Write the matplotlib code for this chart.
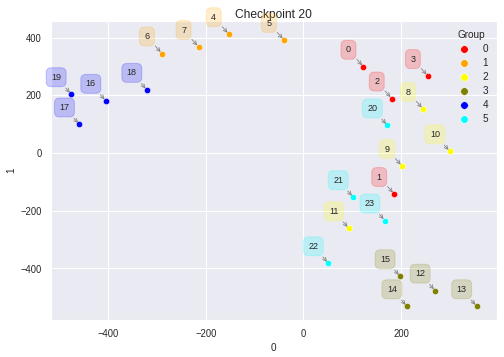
import numpy as np
import pandas as pd
import matplotlib
matplotlib.use('Agg')
import matplotlib.pyplot as plt
import seaborn as sns

sns.set_theme(style='darkgrid')
plt.rcParams['font.family'] = ['Liberation Sans', 'DejaVu Sans']

# point coordinates (index = point id)
x_vals = [123, 186, 181, 255, -153, -40, -290, -215, 245, 202, 300, 93,
          270, 355, 212, 198, -405, -459, -321, -476, 172, 102, 51, 167]
y_vals = [299, -142, 189, 267, 412, 392, 345, 368, 153, -45, 6, -261,
          -477, -531, -531, -427, 181, 99, 219, 204, 96, -153, -382, -234]
groups = [0, 0, 0, 0, 1, 1, 1, 1, 2, 2, 2, 2,
          3, 3, 3, 3, 4, 4, 4, 4, 5, 5, 5, 5]
group_colors = ['red', 'orange', 'yellow', 'olive', 'blue', 'cyan']

df = pd.DataFrame({'x': x_vals, 'y': y_vals, 'Group': groups})

fig, ax = plt.subplots(figsize=(7, 4.96), dpi=72)
fig.subplots_adjust(left=0.101, right=0.986, top=0.942, bottom=0.104)

for g, col in enumerate(group_colors):
    sub = df[df['Group'] == g]
    ax.scatter(sub['x'], sub['y'], s=40, color=col, edgecolor='white',
               linewidth=0.5, label=str(g), zorder=3)

# numbered labels with arrows
for i, row in df.iterrows():
    col = group_colors[row['Group']]
    ax.annotate(str(i), xy=(row['x'], row['y']), xytext=(-15, 17),
                textcoords='offset points', ha='center', va='center',
                fontsize=9, color='#262626',
                bbox=dict(boxstyle='round,pad=0.55', fc=col, ec=col, alpha=0.2),
                arrowprops=dict(arrowstyle='->', color='gray', lw=0.8),
                zorder=4)

ax.set_xlabel('0', fontsize=10)
ax.set_ylabel('1', fontsize=10)
ax.set_title('Checkpoint 20', fontsize=12, pad=3)
ax.tick_params(labelsize=9.5)
ax.legend(title='Group', loc='upper right', frameon=False, fontsize=10,
          title_fontsize=10, markerscale=1.2, handletextpad=0.8,
          labelspacing=0.4)

fig.savefig('out.png', dpi=72)
